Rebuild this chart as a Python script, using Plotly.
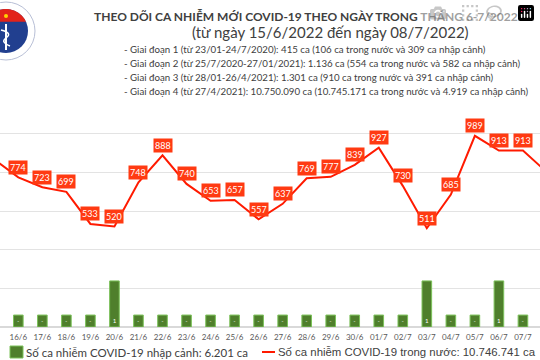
import math
import plotly.graph_objects as go

# ---------------- data ----------------
dates = ["15/6", "16/6", "17/6", "18/6", "19/6", "20/6", "21/6", "22/6", "23/6", "24/6",
         "25/6", "26/6", "27/6", "28/6", "29/6", "30/6", "01/7", "02/7", "03/7", "04/7",
         "05/7", "06/7", "07/7", "08/7"]
domestic = [866, 774, 723, 699, 533, 520, 748, 888, 740, 653,
            657, 557, 637, 769, 777, 839, 927, 730, 511, 685,
            989, 913, 913, 800]
imported = [0, 0, 0, 0, 0, 1, 0, 0, 0, 0,
            0, 0, 0, 0, 0, 0, 0, 0, 1, 0,
            0, 1, 0, 0]

title_text = "THEO DÕI CA NHIỄM MỚI COVID-19 THEO NGÀY TRONG THÁNG 6-7/2022"
subtitle_text = "(từ ngày 15/6/2022 đến ngày 08/7/2022)"
phase_lines = [
    "- Giai đoạn 1 (từ 23/01-24/7/2020): 415 ca (106 ca trong nước và 309 ca nhập cảnh)",
    "- Giai đoạn 2 (từ 25/7/2020-27/01/2021): 1.136 ca (554 ca trong nước và 582 ca nhập cảnh)",
    "- Giai đoạn 3 (từ 28/01-26/4/2021): 1.301 ca (910 ca trong nước và 391 ca nhập cảnh)",
    "- Giai đoạn 4 (từ 27/4/2021): 10.750.090 ca (10.745.171 ca trong nước và 4.919 ca nhập cảnh)",
]
legend_imported = "Số ca nhiễm COVID-19 nhập cảnh: 6.201 ca"
legend_domestic = "Số ca nhiễm COVID-19 trong nước: 10.746.741 ca"

# ---------------- layout geometry ----------------
W, H = 540, 360
PLOT_TOP, PLOT_BOTTOM = 95, 327
PH = PLOT_BOTTOM - PLOT_TOP
BAR_BASE = -0.35

def py(p):
    return (PLOT_BOTTOM - p) / PH

def px(p):
    return p / W

TEXT = "#404040"
FONT = "Lato"

fig = go.Figure()

fig.add_trace(go.Bar(
    x=dates, y=[v - BAR_BASE for v in imported], base=BAR_BASE, yaxis="y2",
    marker=dict(color="#4F7F2C", line=dict(color="#7CC25A", width=1)),
    width=0.4,
    text=["-" if v == 0 else str(v) for v in imported],
    textposition="inside", insidetextanchor="start", textangle=0,
    textfont=dict(size=7, color="white", family=FONT),
    name=legend_imported, showlegend=False,
))

fig.add_trace(go.Scatter(
    x=dates, y=domestic, mode="lines",
    line=dict(color="#FF1A00", width=2),
    name=legend_domestic, showlegend=False,
))

annotations = []
for d, v in zip(dates, domestic):
    annotations.append(dict(
        x=d, y=v, xref="x", yref="y", yshift=10, text=str(v), showarrow=False,
        bgcolor="#FF3A12", borderpad=1,
        font=dict(size=9, color="white", family=FONT),
    ))

annotations.append(dict(x=px(306), y=py(16), xref="paper", yref="paper", text=title_text,
                        showarrow=False, xanchor="center", yanchor="middle",
                        font=dict(size=12, color=TEXT, family=FONT, weight="bold")))
annotations.append(dict(x=px(330), y=py(32), xref="paper", yref="paper", text=subtitle_text,
                        showarrow=False, xanchor="center", yanchor="middle",
                        font=dict(size=15, color=TEXT, family=FONT)))
for i, line in enumerate(phase_lines):
    annotations.append(dict(x=px(122), y=py(49 + 14 * i), xref="paper", yref="paper",
                            text=line, showarrow=False, xanchor="left", yanchor="middle",
                            font=dict(size=9.7, color=TEXT, family=FONT)))

annotations.append(dict(x=px(24), y=py(352), xref="paper", yref="paper", text=legend_imported,
                        showarrow=False, xanchor="left", yanchor="middle",
                        font=dict(size=11.5, color=TEXT, family=FONT)))
annotations.append(dict(x=px(276), y=py(352), xref="paper", yref="paper", text=legend_domestic,
                        showarrow=False, xanchor="left", yanchor="middle",
                        font=dict(size=11.4, color=TEXT, family="Liberation Sans")))

shapes = [
    dict(type="rect", xref="paper", yref="paper", x0=px(10), x1=px(23), y0=py(358), y1=py(346),
         fillcolor="#4F7F2C", line=dict(color="#7CC25A", width=1)),
    dict(type="line", xref="paper", yref="paper", x0=px(262), x1=px(275), y0=py(352), y1=py(352),
         line=dict(color="#FF1A00", width=2)),
]

# simple emblem (logo) at top-left
def circ(cx, cy, r, fill, line_color=None, lw=0):
    return dict(type="circle", xref="paper", yref="paper",
                x0=px(cx - r), x1=px(cx + r), y0=py(cy + r), y1=py(cy - r),
                fillcolor=fill, line=dict(color=line_color or fill, width=lw))

def arc_path(cx, cy, r, a0, a1, n=24):
    pts = []
    for k in range(n + 1):
        a = math.radians(a0 + (a1 - a0) * k / n)
        pts.append((px(cx + r * math.cos(a)), py(cy - r * math.sin(a))))
    return "M " + " L ".join(f"{x:.5f},{y:.5f}" for x, y in pts) + " Z"

shapes.append(circ(6, 31, 29, "white", "#B8BFD6", 1))
shapes.append(circ(6, 31, 22, "#213F8F"))
shapes.append(dict(type="path", xref="paper", yref="paper", path=arc_path(6, 31, 22, 25, 155),
                   fillcolor="#E2231A", line=dict(color="#E2231A", width=0)))
shapes.append(circ(6, 16, 2, "#FFD200"))
shapes.append(dict(type="line", xref="paper", yref="paper", x0=px(6), x1=px(6), y0=py(50), y1=py(24),
                   line=dict(color="white", width=2)))
shapes.append(dict(type="path", xref="paper", yref="paper",
                   path=f"M {px(1)},{py(30)} Q {px(13)},{py(33)} {px(6)},{py(38)} Q {px(0)},{py(42)} {px(10)},{py(46)}",
                   line=dict(color="white", width=1.5)))

fig.update_layout(
    width=W, height=H,
    margin=dict(l=0, r=0, t=PLOT_TOP, b=H - PLOT_BOTTOM),
    paper_bgcolor="white", plot_bgcolor="white",
    showlegend=False,
    xaxis=dict(type="category", range=[0.237, 22.71], showgrid=False, ticks="",
               tickfont=dict(size=8, color="#595959", family=FONT), showline=False,
               zeroline=False, fixedrange=True, ticklabelstandoff=4),
    yaxis=dict(range=[0, 1200], dtick=200, showgrid=True, gridcolor="#E3E3E3", gridwidth=1,
               zeroline=True, zerolinecolor="#D9D9D9", showticklabels=False, ticks="",
               fixedrange=True),
    yaxis2=dict(range=[BAR_BASE, 6.45], overlaying="y", side="right", visible=False,
                showgrid=False, fixedrange=True),
    annotations=annotations,
    shapes=shapes,
)

fig.write_html("out.html",
               post_script="document.body.style.margin='0';document.body.style.overflow='hidden';")
